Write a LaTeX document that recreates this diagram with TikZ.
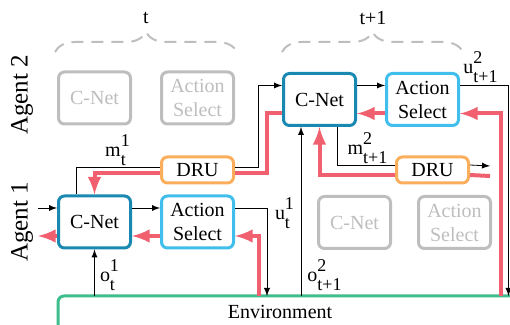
\documentclass[tikz,border=0pt]{standalone}
\usepackage{amsmath}
\usepackage{fontspec}
\setmainfont{Liberation Serif}
\usetikzlibrary{decorations.pathreplacing}
\definecolor{netblue}{RGB}{26,137,178}
\definecolor{selblue}{RGB}{64,190,236}
\definecolor{druorange}{RGB}{250,174,92}
\definecolor{gradred}{RGB}{240,96,110}
\definecolor{envgreen}{RGB}{62,190,140}
\definecolor{fadegray}{RGB}{190,190,190}
\tikzset{
  box/.style={draw, line width=1.5pt, rounded corners=3pt, fill=white,
    minimum width=36pt, minimum height=26pt, align=center, inner sep=1pt},
  cnet/.style={box, draw=netblue},
  actsel/.style={box, draw=selblue},
  faded/.style={box, draw=fadegray, text=fadegray},
  drubox/.style={box, draw=druorange, minimum height=13pt},
  grad/.style={gradred, line width=2pt},
  tbrace/.style={decorate, decoration={brace,amplitude=10pt}, fadegray,
    line width=1pt, dash pattern=on 6pt off 4pt},
}
\newcommand{\sig}[3]{#1$^{\text{\small #2\rule[-1.5pt]{0pt}{0pt}}}_{\text{\small\rule{0pt}{6.5pt}#3}}$}
\begin{document}
\begin{tikzpicture}[x=0.5pt,y=-0.5pt,>=latex]
\clip (0,0) rectangle (510,325);
\node[rotate=90,font=\fontsize{12.5}{15}\selectfont] (ag2) at (22,95) {Agent 2};
\node[rotate=90,font=\fontsize{12.5}{15}\selectfont] (ag1) at (22,222) {Agent 1};
% time steps
\draw[tbrace] (55,52) -- (237,52);
\draw[tbrace] (282,52) -- (463,52);
\node (tl) at (146,18) {t};
\node (tl2) at (373,18) {t+1};

% environment
\draw[envgreen,line width=1.5pt,rounded corners=3pt] (58,296) rectangle (600,400);
\node (env) at (280,312) {Environment};

% boxes
\node[faded] (cn2a) at (94.5,98) {C-Net};
\node[faded] (as2a) at (197.5,98) {Action\\Select};
\node[cnet] (cn2) at (319.5,99.5) {C-Net};
\node[actsel] (as2) at (422.5,99.5) {Action\\Select};
\node[cnet] (cn1) at (94.5,222) {C-Net};
\node[actsel] (as1) at (197.5,222) {Action\\Select};
\node[faded] (cn1b) at (354.5,222.5) {C-Net};
\node[faded] (as1b) at (454.5,222.5) {Action\\Select};
\node[drubox] (dru1) at (197.5,170) {DRU};
\node[drubox] (dru2) at (432.5,170) {DRU};

\coordinate (in1) at (38,208);
\coordinate (out1) at (38,236);
\coordinate (o1) at (94.5,296);
\coordinate (o2) at (301,296);
\coordinate (u1) at (267,296);
\coordinate (g1) at (259,296);
\coordinate (u2) at (508.5,296);
\coordinate (g2) at (501,296);
\coordinate (m2) at (490,166);
\coordinate (r2) at (490,176);

% agent 1 at t
\draw[->] (in1) -- ([yshift=7pt]cn1.west);
\draw[->] ([yshift=7pt]cn1.east) -- ([yshift=7pt]as1.west);
\draw[->] ([yshift=7pt]as1.east) -| (u1);
\draw[->] (o1) -- (o1 |- cn1.south);
\draw[grad,->] (g1) |- ([yshift=-7pt]as1.east);
\draw[grad,->] ([yshift=-7pt]as1.west) -- ([yshift=-7pt]cn1.east);
\draw[grad,->] ([yshift=-7pt]cn1.west) -- (out1);

% message from t to t+1
\draw ([xshift=-9pt]cn1.north) |- ([yshift=1.5pt]dru1.west);
\draw[->] ([yshift=1.5pt]dru1.east) -| ([xshift=-12pt,yshift=7pt]cn2.west) -- ([yshift=7pt]cn2.west);
\draw[grad] ([yshift=-7pt]cn2.west) -- ++(-15,0) |- ([yshift=-1.5pt]dru1.east);
\draw[grad,->] ([yshift=-1.5pt]dru1.west) -| (cn1.north);

% agent 2 at t+1
\draw[->] ([yshift=7pt]cn2.east) -- ([yshift=7pt]as2.west);
\draw[->] ([yshift=7pt]as2.east) -| (u2);
\draw[->] (o2) -- (o2 |- cn2.south);
\draw[grad,->] (g2) |- ([yshift=-7pt]as2.east);
\draw[grad,->] ([yshift=-7pt]as2.west) -- ([yshift=-7pt]cn2.east);
\draw ([xshift=9pt]cn2.south) |- ([yshift=2.5pt]dru2.west);
\draw[grad,->] ([yshift=-2.5pt]dru2.west) -| (cn2.south);
\draw[->] ([yshift=2.5pt]dru2.east) -- (m2);
\draw[grad] ([yshift=-2.5pt]dru2.east) -- (r2);

% labels
\node (lm1) at (118,150) {\sig{m}{1}{t}};
\node (lo1) at (110,275) {\sig{o}{1}{t}};
\node (lu1) at (285,213) {\sig{u}{1}{t}};
\node (lm2) at (368,148) {\sig{m}{2}{t+1}};
\node (lo2) at (325,275) {\sig{o}{2}{t+1}};
\node (lu2) at (481,67) {\sig{u}{2}{t+1}};
\end{tikzpicture}
\end{document}
